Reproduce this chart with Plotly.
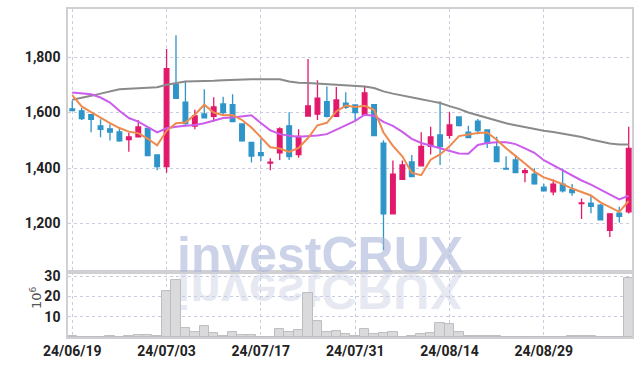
import urllib.parse
import plotly.graph_objects as go
from plotly.subplots import make_subplots

dates = [
    "2024-06-19","2024-06-20","2024-06-21","2024-06-24","2024-06-25","2024-06-26","2024-06-27","2024-06-28",
    "2024-07-01","2024-07-02","2024-07-03","2024-07-04","2024-07-05","2024-07-08","2024-07-09","2024-07-10",
    "2024-07-11","2024-07-12","2024-07-15","2024-07-16","2024-07-17","2024-07-18","2024-07-19","2024-07-22",
    "2024-07-23","2024-07-24","2024-07-25","2024-07-26","2024-07-29","2024-07-30","2024-07-31",
    "2024-08-01","2024-08-02","2024-08-05","2024-08-06","2024-08-07","2024-08-08","2024-08-09","2024-08-12",
    "2024-08-13","2024-08-14","2024-08-16","2024-08-19","2024-08-20","2024-08-21","2024-08-22","2024-08-23",
    "2024-08-26","2024-08-27","2024-08-28","2024-08-29","2024-08-30",
    "2024-09-02","2024-09-03","2024-09-04","2024-09-05","2024-09-06","2024-09-09","2024-09-10","2024-09-11",
]

open_ = [1613,1606,1592,1552,1541,1530,1502,1512,1543,1447,
         1405,1700,1637,1551,1595,1586,1631,1628,1559,1492,
         1455,1418,1455,1552,1448,1587,1594,1639,1586,1634,
         1627,1592,1628,1490,1235,1359,1422,1408,1478,1519,
         1518,1584,1529,1569,1537,1476,1399,1429,1383,1378,
         1331,1314,1342,1322,1272,1273,1266,1175,1237,1242]
high = [1642,1616,1592,1576,1558,1541,1528,1573,1545,1447,
        1829,1878,1714,1610,1684,1655,1657,1666,1560,1495,
        1505,1435,1547,1601,1540,1793,1716,1694,1692,1673,
        1629,1696,1630,1500,1427,1427,1447,1529,1549,1641,
        1601,1585,1552,1577,1540,1513,1442,1447,1399,1399,
        1343,1359,1397,1342,1290,1302,1270,1236,1260,1549]
low = [1605,1573,1529,1511,1499,1495,1459,1510,1443,1392,
       1383,1651,1555,1540,1578,1567,1592,1565,1495,1420,
       1425,1392,1429,1429,1437,1586,1573,1582,1584,1613,
       1572,1590,1515,1104,1233,1357,1367,1406,1449,1411,
       1505,1550,1508,1522,1472,1421,1395,1381,1349,1340,
       1316,1302,1312,1300,1216,1237,1211,1151,1204,1236]
close = [1607,1578,1575,1539,1529,1498,1512,1548,1445,1405,
         1758,1651,1560,1588,1581,1620,1600,1567,1498,1443,
         1445,1421,1541,1441,1514,1624,1652,1586,1645,1619,
         1600,1671,1517,1235,1378,1411,1369,1478,1512,1477,
         1555,1553,1510,1535,1489,1423,1396,1383,1390,1343,
         1318,1342,1318,1311,1274,1262,1213,1235,1226,1471]

ma_short = [1663,1622,1601,1580,1562,1544,1531,1525,1506,1482,
            1534,1561,1564,1592,1628,1600,1590,1591,1573,1546,
            1511,1475,1470,1458,1472,1508,1554,1563,1604,1625,
            1620,1624,1610,1528,1480,1442,1382,1374,1430,1449,
            1478,1515,1521,1526,1528,1502,1471,1445,1416,1387,
            1366,1355,1342,1326,1313,1301,1276,1259,1242,1281]
ma_mid = [1672,1670,1666,1654,1636,1606,1580,1567,1549,1528,
          1543,1549,1552,1555,1561,1571,1580,1582,1586,1590,
          1562,1536,1522,1516,1513,1514,1517,1522,1538,1555,
          1570,1592,1588,1566,1552,1530,1505,1490,1481,1471,
          1461,1452,1451,1483,1490,1493,1493,1486,1471,1455,
          1428,1410,1392,1372,1355,1340,1322,1305,1287,1300]
ma_long = [1646,1652,1660,1668,1676,1684,1686,1688,1689,1691,
           1700,1706,1712,1713,1713,1714,1716,1718,1720,1720,
           1720,1719,1720,1712,1707,1706,1704,1702,1700,1698,
           1697,1694,1688,1676,1668,1662,1654,1648,1641,1634,
           1623,1613,1600,1590,1580,1570,1561,1554,1547,1540,
           1534,1530,1524,1518,1512,1503,1495,1488,1485,1485]

volume = [0.3,0.2,0.2,0.2,0.3,0.2,0.3,1.0,1.0,0.3,
          22.8,28.3,4.2,2.2,5.2,1.7,0.5,2.2,0.8,0.8,
          0.2,0.2,3.7,2.2,3.2,21.7,7.7,2.2,2.7,1.3,
          0.5,3.7,1.3,1.8,2.2,0.2,0.6,1.6,1.7,6.7,
          6.2,2.2,0.7,0.7,0.7,0.3,0.2,0.2,0.2,0.2,
          0.1,0.1,0.1,0.3,0.3,0.3,0.1,0.1,0.1,29.2]

tick_dates = [dates[i] for i in range(0, 60, 10)]
tick_text = [d[2:].replace("-", "/") for d in tick_dates]
price_ticks = [1200, 1400, 1600, 1800]
vol_ticks = [10, 20, 30]

FONT = "Roboto, Liberation Sans, sans-serif"
RED = "#e2196b"
BLUE = "#2f95c9"
TICKFONT = dict(family=FONT, size=14, color="#222", weight="bold")

fig = make_subplots(rows=2, cols=1, shared_xaxes=True, vertical_spacing=0,
                    row_heights=[0.802, 0.198])

fig.add_trace(go.Bar(x=dates, y=volume, marker=dict(color="#dadadc", line=dict(color="#bdbdc1", width=1)),
                     width=1.0, showlegend=False, hoverinfo="skip"), row=2, col=1)

fig.add_trace(go.Scatter(x=dates, y=ma_long, mode="lines", line=dict(color="#8a8a8a", width=2),
                         showlegend=False, hoverinfo="skip"), row=1, col=1)
fig.add_trace(go.Scatter(x=dates, y=ma_mid, mode="lines", line=dict(color="#cc5cec", width=2),
                         showlegend=False, hoverinfo="skip"), row=1, col=1)
fig.add_trace(go.Scatter(x=dates, y=ma_short, mode="lines", line=dict(color="#ef8a4e", width=2),
                         showlegend=False, hoverinfo="skip"), row=1, col=1)

fig.add_trace(go.Candlestick(x=dates, open=open_, high=high, low=low, close=close,
                             increasing=dict(line=dict(color=RED, width=1.3), fillcolor=RED),
                             decreasing=dict(line=dict(color=BLUE, width=1.3), fillcolor=BLUE),
                             whiskerwidth=0, showlegend=False), row=1, col=1)

grid = dict(showgrid=True, gridcolor="#c9cde0", griddash="dot", gridwidth=1)
axline = dict(showline=True, linecolor="#cfcfd4", linewidth=1.5, mirror=True, automargin=False)

fig.update_xaxes(type="category", range=[-0.45, 59.35], tickmode="array", tickvals=tick_dates,
                 ticktext=tick_text, ticks="", rangeslider_visible=False, **grid, **axline)
fig.update_xaxes(showticklabels=False, row=1, col=1)
fig.update_xaxes(showticklabels=True, row=2, col=1, tickfont=TICKFONT, ticklabelstandoff=0)

fig.update_yaxes(range=[1025, 1973], tickmode="array", tickvals=price_ticks, tickformat=",",
                 ticks="", zeroline=False, tickfont=TICKFONT, ticklabelstandoff=3,
                 **grid, **axline, row=1, col=1)
fig.update_yaxes(range=[0, 32], tickmode="array", tickvals=vol_ticks, ticks="", zeroline=False,
                 tickfont=TICKFONT, ticklabelstandoff=3, **grid, **axline, row=2, col=1)

# volume unit label
fig.add_annotation(text="10<sup>6</sup>", xref="paper", yref="paper", x=-0.058, y=0.12,
                   xanchor="center", yanchor="middle", textangle=-90, showarrow=False,
                   font=dict(family="DejaVu Sans, sans-serif", size=13, color="#555"))

# watermark text
fig.add_annotation(text="investCRUX", xref="paper", yref="paper", x=0.446, y=0.198,
                   xanchor="center", yanchor="bottom", yshift=-13, showarrow=False,
                   font=dict(family="Liberation Sans, Arial, sans-serif", size=50, color="rgba(172,183,218,0.62)",
                             weight="bold"))

# watermark reflection (vertically mirrored)
svg = ('<svg xmlns="http://www.w3.org/2000/svg" width="300" height="60" viewBox="0 0 300 60">'
       '<g transform="translate(0,2) scale(1,-1)">'
       '<text x="150" y="0" text-anchor="middle" font-family="Liberation Sans, Arial, sans-serif" '
       'font-weight="bold" font-size="50" fill="rgba(190,198,222,0.38)">investCRUX</text></g></svg>')
fig.add_layout_image(dict(source="data:image/svg+xml;utf8," + urllib.parse.quote(svg),
                          xref="paper", yref="paper", x=0.446, y=0.198, sizex=300/564, sizey=60/328,
                          xanchor="center", yanchor="top", sizing="stretch", layer="below"))

fig.update_layout(width=642, height=366, margin=dict(l=68, r=10, t=9, b=29),
                  plot_bgcolor="white", paper_bgcolor="white", bargap=0,
                  font=dict(family=FONT), showlegend=False)

fig.write_html("out.html", config={"displayModeBar": False},
               post_script="document.body.style.margin='0';document.body.style.padding='0';"
                           "document.body.style.overflow='hidden';")
